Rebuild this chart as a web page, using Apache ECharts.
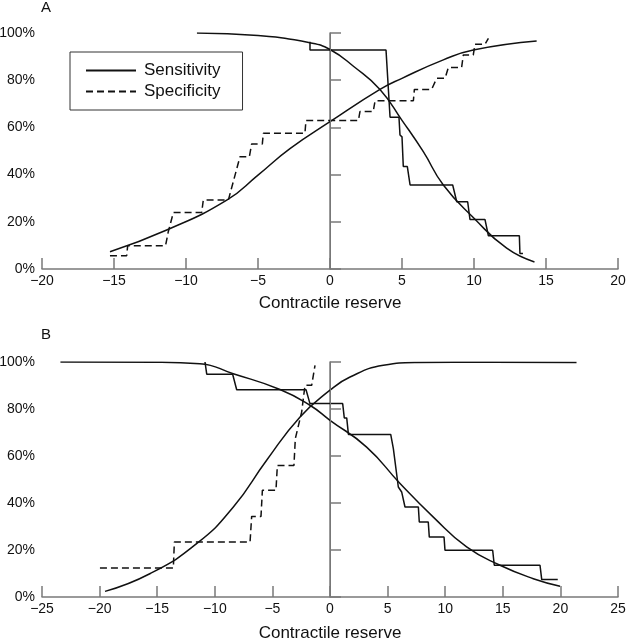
<!DOCTYPE html>
<html>
<head>
<meta charset="utf-8">
<script src="https://cdn.jsdelivr.net/npm/echarts@6/dist/echarts.min.js"></script>
<style>
html,body{margin:0;padding:0;background:#fff;}
#chart{width:626px;height:639px;}
</style>
</head>
<body>
<div id="chart"></div>
<script>
// ---------- Data (x = contractile reserve, y = %) ----------
const xTicksA = [-20, 20, 5];
const xTicksB = [-25, 25, 5];
const yTicks = [0, 100, 20];

// Panel A
const sensFitA = [[-9.24,100],[-5,98.9],[-1.4,95.9],[0,93],[1.67,85.7],[3.47,76.1],[5,63],[6.48,49.7],[7.87,35.6],[10,21.5],[12.27,8.8],[14.2,3]];
const specFitA = [[-15.28,7.3],[-11.34,16.5],[-7.17,29.2],[-5,39.8],[-2.78,51],[0,62.4],[3.47,76.1],[5,80.8],[7.87,88.6],[9.95,92.8],[14.35,96.6]];
const sensStepA = [[-1.39,96.3],[-1.39,92.8],[3.89,92.8],[4.17,64.3],[4.79,64.3],[4.86,56.8],[5.0,56],[5.09,43.4],[5.37,43.4],[5.56,35.6],[8.52,35.6],[8.8,28.5],[9.56,28.5],[9.72,21],[10.76,21],[11.0,14.1],[13.15,14.1],[13.19,6.6],[13.4,6.6]];
const specStepA = [[-15.28,5.6],[-14.12,5.6],[-14.05,9.9],[-11.42,9.9],[-11.23,15.8],[-10.88,23.9],[-8.91,23.9],[-8.8,29.2],[-7.06,29.2],[-6.25,47.6],[-5.6,47.6],[-5.44,53],[-4.7,53],[-4.63,57.5],[-1.74,57.5],[-1.67,62.9],[1.97,62.9],[2.08,66.7],[3.0,66.7],[3.13,71.3],[5.79,71.3],[5.86,76.1],[7.06,76.1],[7.41,80.8],[7.99,80.8],[8.22,85.4],[9.14,85.4],[9.26,90.7],[9.95,90.7],[10.07,95.2],[10.76,95.2],[11.0,97.7]];

// Panel B
const sensFitB = [[-23.4,100],[-15,99.9],[-11.3,99.3],[-8.4,95],[-4.34,88.3],[-1.74,81.6],[0,75.2],[3.18,63.8],[6.08,48.3],[8.97,34],[11.86,21.3],[14.76,13.5],[17.65,7.8],[19.97,4.6]];
const specFitB = [[-19.53,2.4],[-15.6,10],[-11.5,23],[-8.39,38.3],[-5.5,58.2],[-2.6,76.6],[0,88],[1.74,93.6],[4.63,98.6],[7.5,99.8],[14,99.9],[21.4,99.8]];
const sensStepB = [[-10.85,100],[-10.7,94.8],[-8.45,94.8],[-8.1,88.2],[-2.08,88.2],[-1.74,82.3],[1.1,82.3],[1.24,76.2],[1.45,76.2],[1.6,69.2],[5.27,69.2],[5.5,63.1],[5.64,62.4],[5.93,46.8],[6.22,44.7],[6.51,38.3],[7.67,38.3],[7.75,31.9],[8.53,31.9],[8.62,25.5],[9.9,25.5],[9.98,19.9],[14.12,19.9],[14.26,13.5],[18.23,13.5],[18.38,7.4],[19.77,7.4]];
const specStepB = [[-19.97,12.3],[-13.6,12.3],[-13.51,23.4],[-6.94,23.4],[-6.8,34.3],[-5.99,34.3],[-5.87,45.4],[-4.69,45.4],[-4.57,56],[-3.13,56],[-3.01,67.4],[-2.46,78.7],[-2.17,90.1],[-1.59,90.1],[-1.3,98.6]];

const seriesNames = ['Sensitivity', 'Specificity'];
const axisTitle = 'Contractile reserve';
const panelLabels = ['A', 'B'];

// ---------- Chart ----------
const FONT = "'Liberation Sans', Arial, Helvetica, sans-serif";
const AXIS_COLOR = '#7a7a7a';
const INK = '#111';

function xAxisCfg(idx, ticks, gap) {
  return {
    type: 'value', gridIndex: idx, min: ticks[0], max: ticks[1], interval: ticks[2],
    name: axisTitle, nameLocation: 'middle', nameGap: gap,
    nameTextStyle: { fontFamily: FONT, fontSize: 17, color: INK },
    axisLine: { onZero: false, lineStyle: { color: AXIS_COLOR, width: 1.5 } },
    axisTick: { inside: true, length: 11, lineStyle: { color: AXIS_COLOR, width: 1.5 } },
    axisLabel: { fontFamily: FONT, fontSize: 14, color: INK, margin: 5,
      formatter: v => (v < 0 ? '\u2212' + Math.abs(v) : String(v)) },
    splitLine: { show: false }
  };
}
function yAxisCfg(idx) {
  return {
    type: 'value', gridIndex: idx, min: yTicks[0], max: yTicks[1], interval: yTicks[2],
    axisLine: { show: true, lineStyle: { color: AXIS_COLOR, width: 1.5 } },
    axisTick: { show: true, inside: true, length: 11, lineStyle: { color: AXIS_COLOR, width: 1.5 } },
    axisLabel: { fontFamily: FONT, fontSize: 14, color: INK, margin: 7, formatter: '{value}%' },
    splitLine: { show: false }
  };
}
function lineSeries(name, data, idx, opts) {
  return Object.assign({
    name: name, type: 'line', data: data, xAxisIndex: idx, yAxisIndex: idx,
    symbol: 'none', showSymbol: false, animation: false, silent: true,
    itemStyle: { color: INK },
    lineStyle: { color: INK, width: 1.5 }
  }, opts || {});
}
function zeroLine(idx) {
  return {
    type: 'line', data: [], xAxisIndex: idx, yAxisIndex: idx, silent: true,
    markLine: { symbol: 'none', silent: true, animation: false, label: { show: false },
      lineStyle: { color: '#777', width: 1, type: 'solid' }, data: [{ xAxis: 0 }] }
  };
}

const chart = echarts.init(document.getElementById('chart'), null, { renderer: 'canvas' });
chart.setOption({
  animation: false,
  backgroundColor: '#fff',
  textStyle: { fontFamily: FONT },
  grid: [
    { left: 42, top: 33, width: 576, height: 236, containLabel: false, outerBoundsMode: 'none' },
    { left: 42, top: 362, width: 576, height: 235, containLabel: false, outerBoundsMode: 'none' }
  ],
  xAxis: [xAxisCfg(0, xTicksA, 26), xAxisCfg(1, xTicksB, 28)],
  yAxis: [yAxisCfg(0), yAxisCfg(1)],
  legend: {
    data: seriesNames, orient: 'vertical', left: 70, top: 52,
    borderColor: '#333', borderWidth: 1, borderRadius: 0,
    padding: [10, 22, 10, 15], itemGap: 4, itemWidth: 50, itemHeight: 14,
    itemStyle: { color: 'rgba(0,0,0,0)', borderWidth: 0, opacity: 0 },
    textStyle: { fontFamily: FONT, fontSize: 17, color: INK, padding: [0, 0, 0, 3] },
    selectedMode: false
  },
  graphic: [
    { type: 'text', left: 41, top: 0, style: { text: panelLabels[0], font: '15px ' + FONT, fill: INK } },
    { type: 'text', left: 41, top: 327, style: { text: panelLabels[1], font: '15px ' + FONT, fill: INK } }
  ],
  series: [
    zeroLine(0),
    lineSeries(seriesNames[0], sensStepA, 0),
    lineSeries(seriesNames[1], specStepA, 0, { lineStyle: { color: INK, width: 1.5, type: [7, 4] } }),
    lineSeries('Sensitivity fit', sensFitA, 0, { smooth: 0.5 }),
    lineSeries('Specificity fit', specFitA, 0, { smooth: 0.5 }),
    zeroLine(1),
    lineSeries(seriesNames[0], sensStepB, 1),
    lineSeries(seriesNames[1], specStepB, 1, { lineStyle: { color: INK, width: 1.5, type: [7, 4] } }),
    lineSeries('Sensitivity fit', sensFitB, 1, { smooth: 0.5 }),
    lineSeries('Specificity fit', specFitB, 1, { smooth: 0.5 })
  ]
});
</script>
</body>
</html>
